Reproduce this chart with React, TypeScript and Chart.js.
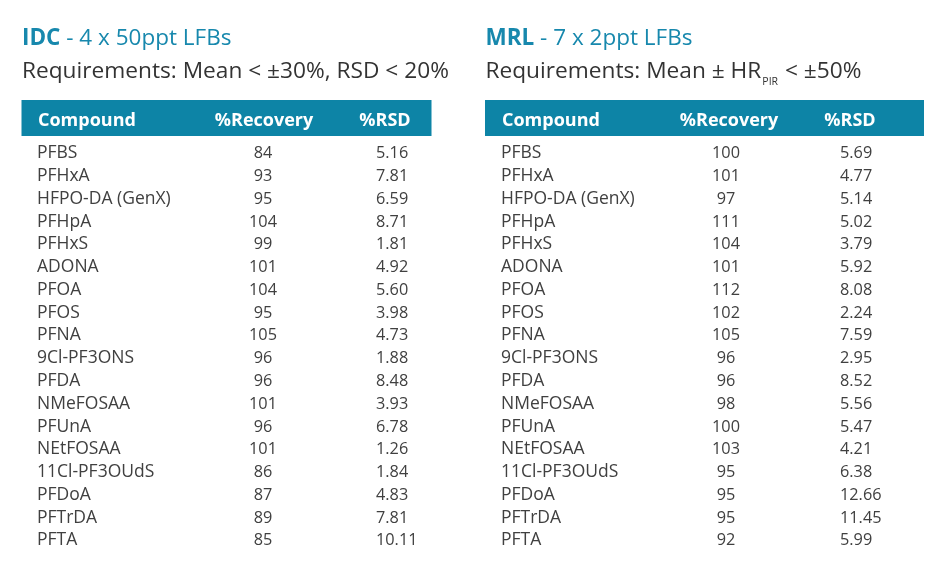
import React, { useEffect, useRef } from "react";
import { Chart, registerables } from "chart.js";

Chart.register(...registerables);

// ---------- data ----------
const compounds = [
  "PFBS", "PFHxA", "HFPO-DA (GenX)", "PFHpA", "PFHxS", "ADONA", "PFOA", "PFOS", "PFNA",
  "9Cl-PF3ONS", "PFDA", "NMeFOSAA", "PFUnA", "NEtFOSAA", "11Cl-PF3OUdS", "PFDoA", "PFTrDA", "PFTA",
];
const idcRecovery = [84, 93, 95, 104, 99, 101, 104, 95, 105, 96, 96, 101, 96, 101, 86, 87, 89, 85];
const idcRsd = [5.16, 7.81, 6.59, 8.71, 1.81, 4.92, 5.6, 3.98, 4.73, 1.88, 8.48, 3.93, 6.78, 1.26, 1.84, 4.83, 7.81, 10.11];
const mrlRecovery = [100, 101, 97, 111, 104, 101, 112, 102, 105, 96, 96, 98, 100, 103, 95, 95, 95, 92];
const mrlRsd = [5.69, 4.77, 5.14, 5.02, 3.79, 5.92, 8.08, 2.24, 7.59, 2.95, 8.52, 5.56, 5.47, 4.21, 6.38, 12.66, 11.45, 5.99];
const headers = ["Compound", "%Recovery", "%RSD"];
const idcTitle = ["IDC", " - 4 x 50ppt LFBs"];
const idcReq = "Requirements: Mean < \u00b130%, RSD < 20%";
const mrlTitle = ["MRL", " - 7 x 2ppt LFBs"];
const mrlReq = ["Requirements: Mean \u00b1 HR", "PIR", " < \u00b150%"];

// ---------- layout (x in layout units of the hidden linear x scale) ----------
const TEAL = "#0d84a6";
const TITLE = "#1788ad";
const TEXT = "#404040";
const FONT = "'Open Sans', 'Noto Sans', sans-serif";
const tables = [
  { left: 21.5, right: 431.5, cols: [37, 263, 376], hdr: [38, 264, 385], title: idcTitle, req: [idcReq], rec: idcRecovery, rsd: idcRsd },
  { left: 485, right: 924, cols: [501, 726, 840], hdr: [502, 729, 850], title: mrlTitle, req: mrlReq, rec: mrlRecovery, rsd: mrlRsd },
];

const tablePlugin = {
  id: "tableText",
  afterDatasetsDraw(chart: any) {
    const ctx = chart.ctx as CanvasRenderingContext2D;
    const xs = chart.scales.x;
    const top = chart.chartArea.top;
    ctx.save();
    tables.forEach((t) => {
      const L = xs.getPixelForValue(t.left);
      const R = xs.getPixelForValue(t.right);
      // title
      ctx.textBaseline = "alphabetic";
      ctx.textAlign = "left";
      ctx.fillStyle = TITLE;
      ctx.font = `bold 22.5px ${FONT}`;
      let x = L + 0.5;
      ctx.fillText(t.title[0], x, top - 96);
      x += ctx.measureText(t.title[0]).width;
      ctx.font = `22.5px ${FONT}`;
      ctx.fillText(t.title[1], x, top - 96);
      // requirements
      ctx.fillStyle = "#333333";
      x = L + 0.5;
      ctx.font = `22.7px ${FONT}`;
      ctx.fillText(t.req[0], x, top - 63);
      if (t.req.length > 1) {
        x += ctx.measureText(t.req[0]).width;
        ctx.font = `10.5px ${FONT}`;
        ctx.fillText(t.req[1], x + 1, top - 56);
        x += ctx.measureText(t.req[1]).width + 2;
        ctx.font = `22.7px ${FONT}`;
        ctx.fillText(t.req[2], x, top - 63);
      }
      // header bar
      ctx.fillStyle = TEAL;
      ctx.fillRect(L, top - 41, R - L, 36);
      ctx.fillStyle = "#ffffff";
      ctx.font = `bold 18px ${FONT}`;
      headers.forEach((h, hi) => {
        ctx.textAlign = hi === 0 ? "left" : "center";
        ctx.fillText(h, xs.getPixelForValue(t.hdr[hi]), top - 15);
      });
    });
    // cells via dataset element positions
    ctx.fillStyle = TEXT;
    chart.data.datasets.forEach((ds: any, di: number) => {
      const meta = chart.getDatasetMeta(di);
      ctx.textAlign = ds.cellAlign;
      ctx.font = `${ds.cellSize}px ${FONT}`;
      meta.data.forEach((el: any, i: number) => {
        ctx.fillText(ds.cellText[i], el.x, el.y + 5.8);
      });
    });
    ctx.restore();
  },
};

export default function App() {
  const ref = useRef<HTMLCanvasElement>(null);
  useEffect(() => {
    document.body.style.margin = "0";
    const rows = compounds.map((_, i) => i);
    const mk = (ti: number, ci: number, texts: string[], align: string, size: number) => ({
      label: `${ti}-${ci}`,
      data: rows.map((r) => ({ x: tables[ti].cols[ci], y: r })),
      cellText: texts,
      cellAlign: align,
      cellSize: size,
      pointRadius: 0,
      pointHoverRadius: 0,
    });
    const datasets: any[] = [
      mk(0, 0, compounds, "left", 17.5),
      mk(0, 1, idcRecovery.map(String), "center", 16.3),
      mk(0, 2, idcRsd.map((v) => v.toFixed(2)), "left", 16.3),
      mk(1, 0, compounds, "left", 17.5),
      mk(1, 1, mrlRecovery.map(String), "center", 16.3),
      mk(1, 2, mrlRsd.map((v) => v.toFixed(2)), "left", 16.3),
    ];
    const chart = new Chart(ref.current!, {
      type: "scatter",
      data: { datasets },
      options: {
        animation: false,
        responsive: false,
        events: [],
        layout: { padding: { top: 141, bottom: 29, left: 0, right: 0 } },
        plugins: { legend: { display: false }, tooltip: { enabled: false } },
        scales: {
          x: { type: "linear", min: 0, max: 930, display: false },
          y: { type: "linear", min: -0.5, max: compounds.length - 0.5, reverse: true, display: false },
        },
      },
      plugins: [tablePlugin],
    } as any);
    return () => chart.destroy();
  }, []);
  return (
    <div style={{ width: 930, height: 580, background: "#fff" }}>
      <canvas ref={ref} width={930} height={580} />
    </div>
  );
}
